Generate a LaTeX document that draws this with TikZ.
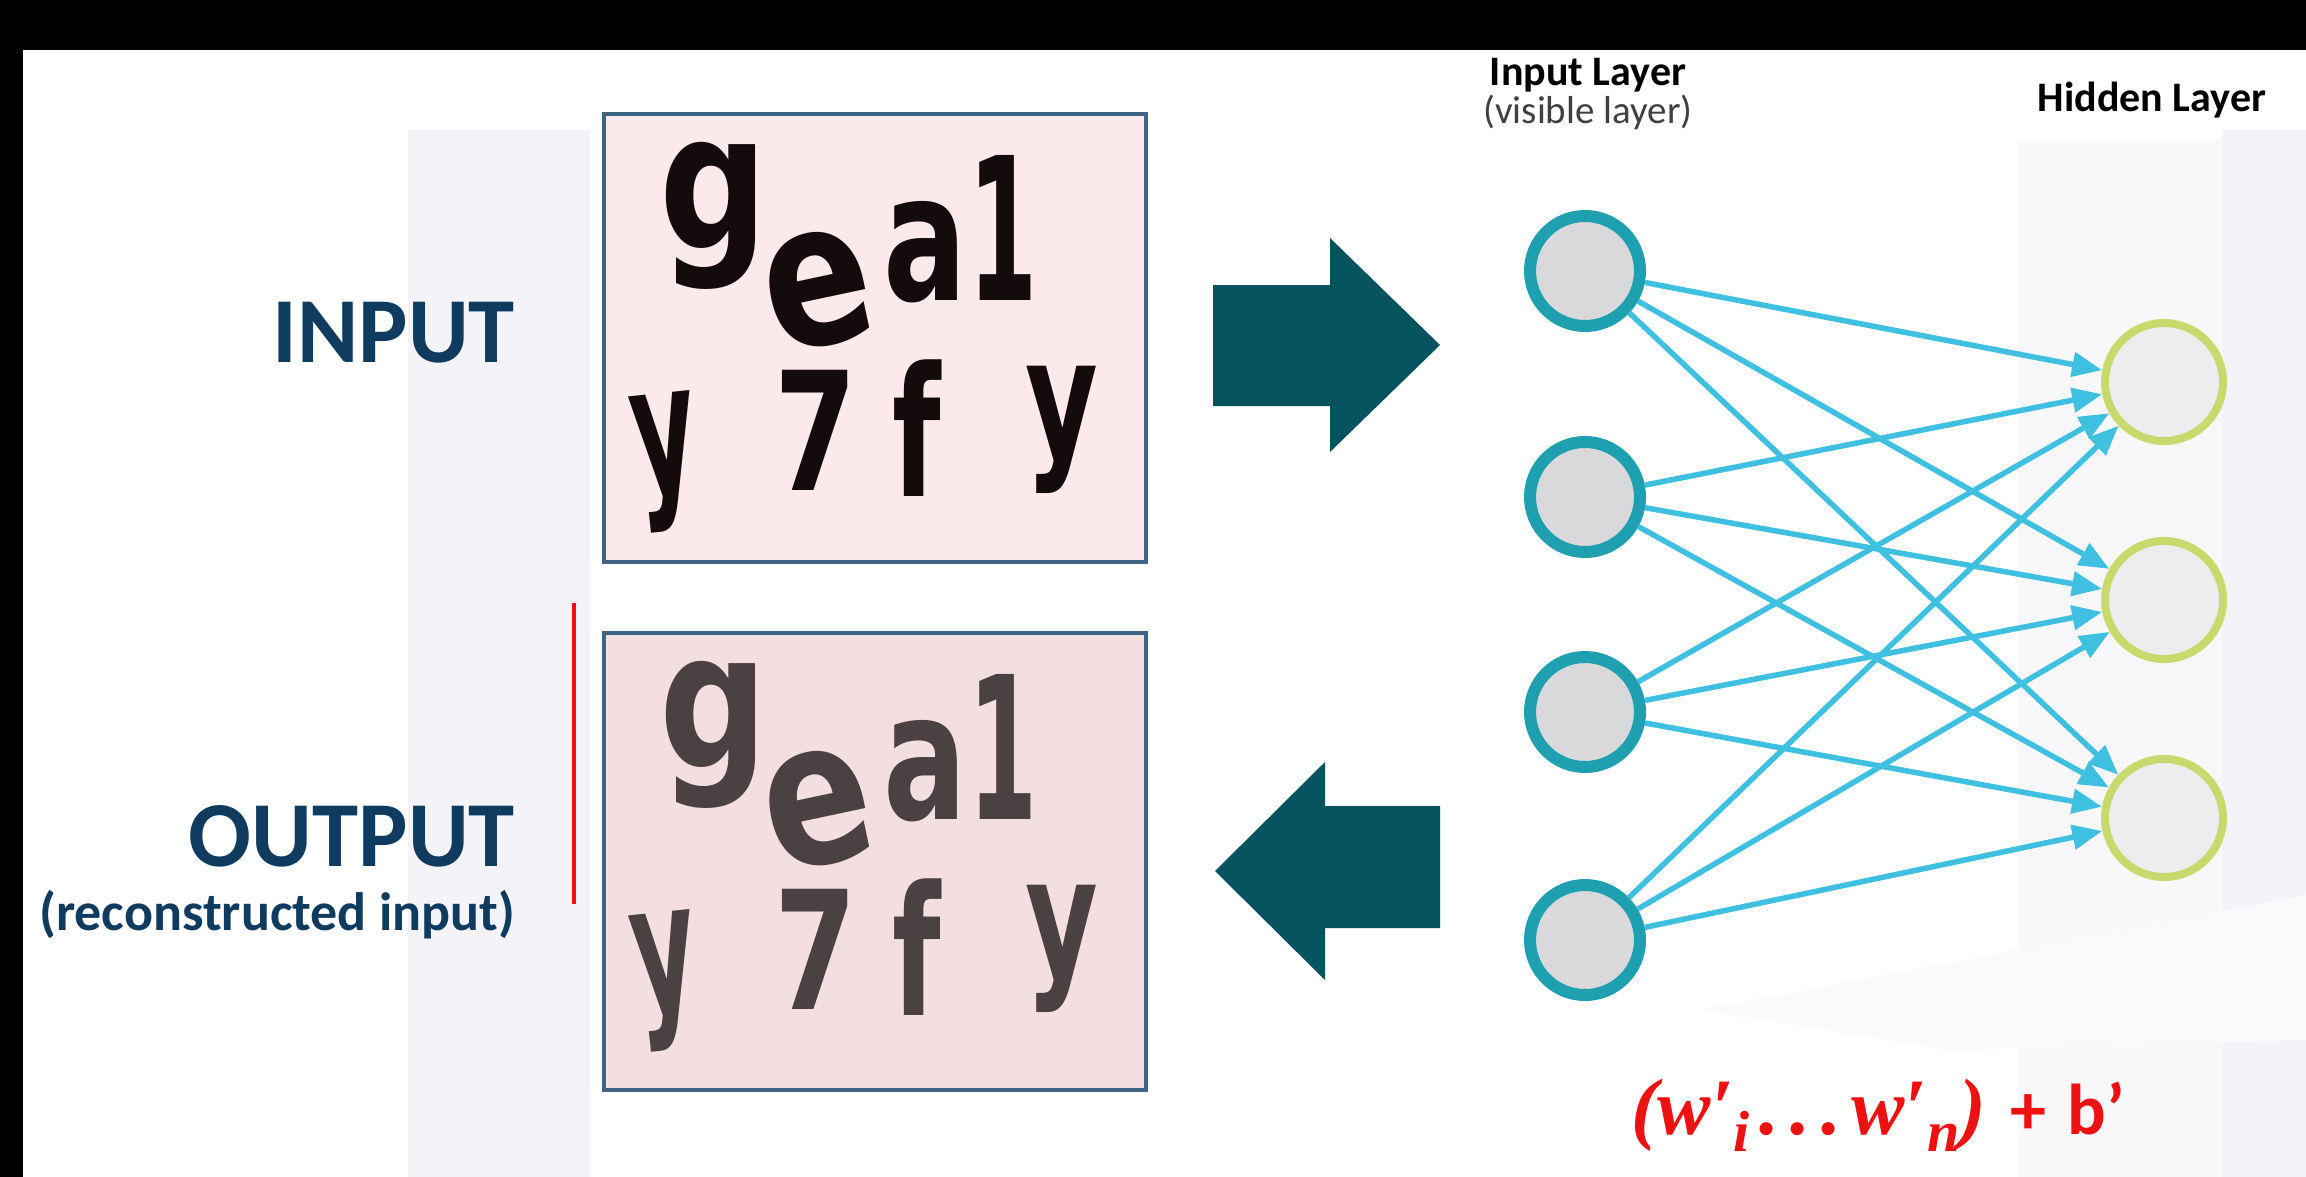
\documentclass[tikz,border=0pt]{standalone}
\usepackage{fontspec}
\usepackage{graphicx}
\usetikzlibrary{arrows.meta}
\newfontfamily\carl{Carlito}
\newfontfamily\captchafont{DejaVu Sans}
\newfontfamily\formfont{Liberation Serif}

\definecolor{navy}{HTML}{0F3B5F}
\definecolor{boxline}{HTML}{3D6482}
\definecolor{inpink}{HTML}{FBE9EC}
\definecolor{outpink}{HTML}{F3DFE2}
\definecolor{arrowteal}{HTML}{04535E}
\definecolor{vring}{HTML}{1FA0B0}
\definecolor{vfill}{HTML}{D9D9DB}
\definecolor{hring}{HTML}{C8DA6E}
\definecolor{hfill}{HTML}{ECEDEF}
\definecolor{wirecol}{HTML}{3FC0E0}
\definecolor{formred}{HTML}{EE1111}
\definecolor{ink}{HTML}{140C0C}
\definecolor{fadeink}{HTML}{4B4143}
\definecolor{panel}{HTML}{F4F4F8}
\definecolor{notegray}{HTML}{404040}

\newcommand\glyphfont[1]{\captchafont\bfseries\fontsize{#1}{#1}\selectfont}
\newcommand\lowsub[1]{\raisebox{-0.22em}{\fontsize{58}{58}\selectfont #1}}

% the captcha characters; #1 = name prefix, #2 = ink colour
\newcommand\glyphset[2]{%
  \node[capglyph=#2, font=\glyphfont{190}] (#1g) at (714,216) {\scalebox{0.8}[1]{g}};
  \node[capglyph=#2, font=\glyphfont{200}, rotate=12] (#1e) at (818,290) {\scalebox{0.8}[1]{e}};
  \node[capglyph=#2, font=\glyphfont{177}] (#1a) at (925,252) {\scalebox{0.7}[1]{a}};
  \node[capglyph=#2, font=\glyphfont{199}] (#1one) at (1003,228) {\scalebox{0.5}[1]{1}};
  \node[capglyph=#2, font=\glyphfont{181}, rotate=6] (#1ya) at (667,462) {\scalebox{0.55}[1]{y}};
  \node[capglyph=#2, font=\glyphfont{165}] (#1seven) at (816,430) {\scalebox{0.72}[1]{7}};
  \node[capglyph=#2, font=\glyphfont{180}] (#1f) at (917,428) {\scalebox{0.62}[1]{f}};
  \node[capglyph=#2, font=\glyphfont{167}] (#1yb) at (1062,430) {\scalebox{0.67}[1]{y}};
}

\tikzset{
  capglyph/.style={inner sep=0pt, outer sep=0pt, text=#1},
  visnode/.style={circle, draw=vring, fill=vfill, line width=12pt, minimum size=110pt, inner sep=0pt},
  hidnode/.style={circle, draw=hring, fill=hfill, line width=8pt, minimum size=118pt, inner sep=0pt},
  wire/.style={draw=wirecol, line width=5.5pt, -{Triangle[length=30pt,width=24pt]}},
  imgbox/.style={draw=boxline, line width=4pt, minimum width=542pt, inner sep=0pt},
  biglabel/.style={font=\carl\bfseries\fontsize{93}{93}\selectfont, text=navy, inner sep=0pt, anchor=base east},
  layerhead/.style={font=\carl\bfseries\fontsize{42}{46}\selectfont, text=black, inner sep=0pt, anchor=base},
  blockarrow/.style={fill=arrowteal},
}

\begin{document}
\begin{tikzpicture}[x=1pt, y=-1pt]
  \useasboundingbox (0,0) rectangle (2306,1177);
  \fill[white] (0,0) rectangle (2306,1177);

  % faint background panels
  \fill[panel] (408,130) rectangle (590,1177);
  \fill[panel!60!white] (2018,140) rectangle (2222,1177);
  \fill[panel] (2222,130) rectangle (2306,1177);
  \fill[panel!45!white] (1700,1010) -- (2306,895) -- (2306,1040) -- (1950,1050) -- cycle;

  % frame bands
  \fill[black] (0,0) rectangle (2306,50);
  \fill[black] (0,0) rectangle (23,1177);

  % side labels
  \node[biglabel] (inlbl) at (515,362) {INPUT};
  \node[biglabel] (outlbl) at (515,866) {OUTPUT};
  \node[biglabel, font=\carl\bfseries\fontsize{54}{54}\selectfont] (outnote) at (515,930) {(reconstructed input)};

  % red marker beside the reconstruction
  \draw[line width=4.5pt, formred] (574,603) -- (574,904);

  % image boxes
  \node[imgbox, fill=inpink, minimum height=448pt] (inbox) at (875,338) {};
  \node[imgbox, fill=outpink, minimum height=457pt] (outbox) at (875,861.5) {};

  \glyphset{i}{ink}
  \begin{scope}[shift={(0,519)}]
    \glyphset{o}{fadeink}
  \end{scope}

  % block arrows: encode and decode
  \fill[blockarrow] (1213,285) -- (1330,285) -- (1330,238) -- (1440,345)
       -- (1330,452) -- (1330,406) -- (1213,406) -- cycle;
  \fill[blockarrow] (1440,806) -- (1325,806) -- (1325,762) -- (1215,871)
       -- (1325,980) -- (1325,928) -- (1440,928) -- cycle;

  % layer headings
  \node[layerhead] (inhead) at (1588,86) {Input Layer};
  \node[layerhead, font=\carl\fontsize{39}{43}\selectfont, text=notegray] (visnote) at (1588,124) {(visible layer)};
  \node[layerhead] (hidhead) at (2152,112) {Hidden Layer};

  % network
  \node[visnode] (v1) at (1585,271) {};
  \node[visnode] (v2) at (1585,497) {};
  \node[visnode] (v3) at (1585,712) {};
  \node[visnode] (v4) at (1585,940) {};
  \node[hidnode] (h1) at (2164,382) {};
  \node[hidnode] (h2) at (2164,600) {};
  \node[hidnode] (h3) at (2164,818) {};

  \foreach \i in {1,...,4}
    \foreach \j in {1,2,3}
      \draw[wire] (v\i) -- (h\j);

  % reconstruction parameters
  \node[text=formred, inner sep=0pt, anchor=base west] (params) at (1631,1134)
    {\formfont\bfseries\itshape\fontsize{80}{84}\selectfont
     (w′\lowsub{i}\hspace{0.12em}.\hspace{0.14em}.\hspace{0.14em}.\hspace{0.12em}w′\lowsub{n})%
     \hspace{0.3em}{\carl\upshape\fontsize{72}{76}\selectfont +\hspace{0.3em}b’}};
\end{tikzpicture}
\end{document}
